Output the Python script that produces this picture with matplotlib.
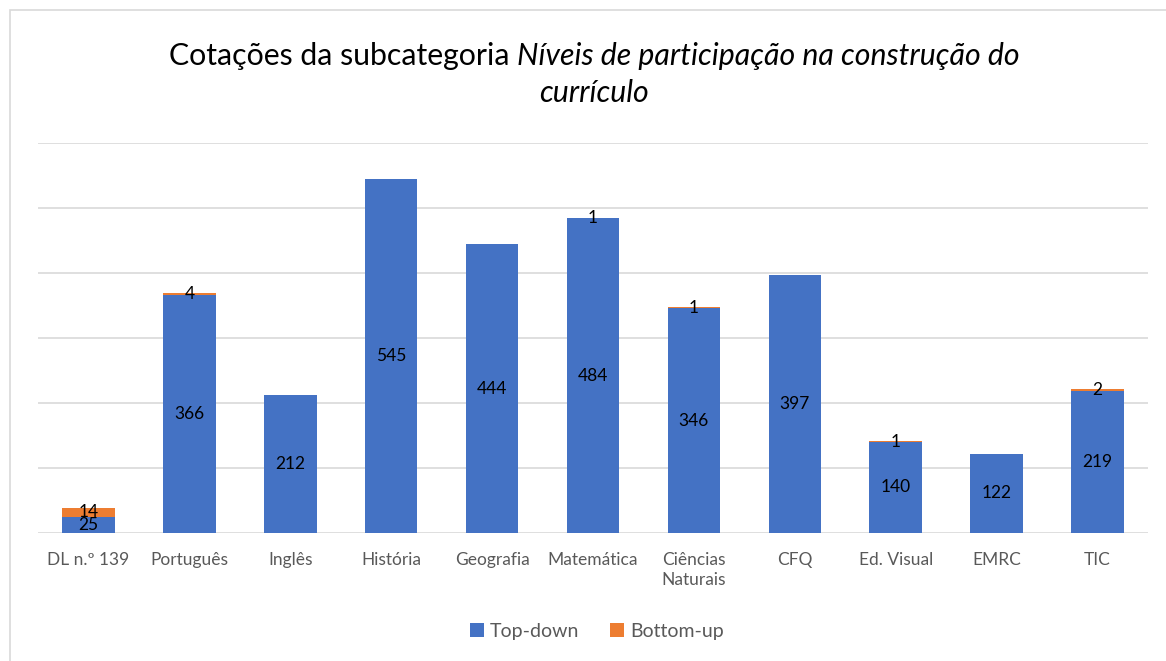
import matplotlib
matplotlib.use('Agg')
import matplotlib.pyplot as plt
from matplotlib.patches import Rectangle
import numpy as np

categorias = ['DL n.º 139', 'Português', 'Inglês', 'História', 'Geografia',
              'Matemática', 'Ciências\nNaturais', 'CFQ', 'Ed. Visual', 'EMRC', 'TIC']
top_down = [25, 366, 212, 545, 444, 484, 346, 397, 140, 122, 219]
bottom_up = [14, 4, 0, 0, 0, 1, 1, 0, 1, 0, 2]

AZUL = '#4472C4'
LARANJA = '#ED7D31'
CINZA = '#595959'
FONTE = 'Lato'

plt.rcParams['font.family'] = [FONTE, 'DejaVu Sans']

fig = plt.figure(figsize=(11.66, 6.61), dpi=100)
W, H = 1166, 661

# moldura do gráfico
fig.patches.append(Rectangle((10 / W, -0.01), 1.2, 1 - 10 / H + 0.01, transform=fig.transFigure,
                             fill=False, edgecolor='#D9D9D9', linewidth=1.2))

ax = fig.add_axes([38 / W, 128 / H, 1110 / W, 390 / H])
x = np.arange(len(categorias))
ax.bar(x, top_down, width=0.52, color=AZUL, label='Top-down', zorder=3)
ax.bar(x, bottom_up, width=0.52, bottom=top_down, color=LARANJA, label='Bottom-up', zorder=3)

ax.set_xlim(-0.5, len(categorias) - 0.5)
ax.set_ylim(0, 600)
ax.set_yticks(np.arange(0, 601, 100))
ax.yaxis.grid(True, color='#D9D9D9', linewidth=1.2, zorder=0)
ax.set_yticklabels([])
ax.tick_params(axis='y', length=0)
ax.tick_params(axis='x', length=0, pad=14, labelsize=12.5, labelcolor=CINZA)
ax.set_xticks(x)
ax.set_xticklabels(categorias, linespacing=1.25, va='top')
for s in ax.spines.values():
    s.set_visible(False)

# rótulos de dados
for i in x:
    ax.text(i, top_down[i] / 2, str(top_down[i]), ha='center', va='center',
            fontsize=12.5, color='black', zorder=4)
    if bottom_up[i] > 0:
        ax.text(i, top_down[i] + bottom_up[i] / 2, str(bottom_up[i]), ha='center',
                va='center', fontsize=12.5, color='black', zorder=4)

# título com parte em itálico
tam = 21.8
fig.canvas.draw()
r = fig.canvas.get_renderer()
p1 = fig.text(0, 0, 'Cotações da subcategoria ', fontsize=tam)
p2 = fig.text(0, 0, 'Níveis de participação na construção do', fontsize=tam, style='italic')
w1 = p1.get_window_extent(r).width
w2 = p2.get_window_extent(r).width
x0 = 594 - (w1 + w2) / 2
y1 = 1 - 56 / H
p1.set_position((x0 / W, y1))
p2.set_position(((x0 + w1) / W, y1))
for p in (p1, p2):
    p.set_va('center')
fig.text(594 / W, 1 - 93 / H, 'currículo', fontsize=tam, style='italic', ha='center', va='center')

leg = fig.legend(loc='center', bbox_to_anchor=(597 / W, 1 - 631 / H), ncol=2, frameon=False,
                 fontsize=14, handlelength=0.7, handleheight=0.7, handletextpad=0.3,
                 columnspacing=1.6)
for t in leg.get_texts():
    t.set_color(CINZA)

fig.savefig('out.png', dpi=100)
